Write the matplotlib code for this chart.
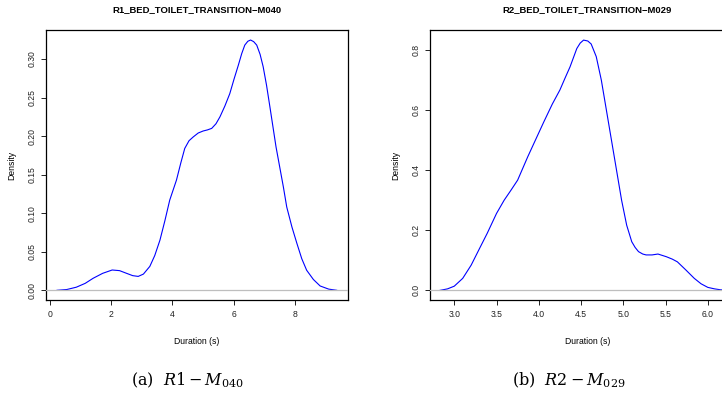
import numpy as np
import matplotlib
matplotlib.use('Agg')
import matplotlib.pyplot as plt

plt.rcParams['font.family'] = ['Liberation Sans', 'DejaVu Sans']
plt.rcParams['mathtext.fontset'] = 'dejavuserif'

# density curves
r1_x = [0.23, 0.55, 0.86, 1.15, 1.41, 1.72, 2.03, 2.27, 2.50, 2.70, 2.88, 3.05, 3.26,
        3.42, 3.59, 3.75, 3.91, 4.13, 4.27, 4.40, 4.54, 4.68, 4.84, 5.00, 5.14,
        5.28, 5.42, 5.55, 5.71, 5.87, 6.01, 6.15, 6.26, 6.36, 6.46, 6.55, 6.65,
        6.75, 6.86, 6.96, 7.07, 7.18, 7.28, 7.38, 7.50, 7.62, 7.73, 7.90, 8.06,
        8.22, 8.38, 8.60, 8.82, 9.10, 9.36]
r1_y = [0.000, 0.001, 0.004, 0.009, 0.0156, 0.022, 0.0263, 0.0255, 0.022, 0.019,
        0.018, 0.021, 0.031, 0.045, 0.065, 0.090, 0.117, 0.143, 0.165, 0.184,
        0.194, 0.199, 0.204, 0.2066, 0.208, 0.210, 0.216, 0.225, 0.239, 0.255,
        0.274, 0.292, 0.307, 0.318, 0.323, 0.3246, 0.3225, 0.318, 0.306, 0.290,
        0.266, 0.238, 0.212, 0.186, 0.160, 0.134, 0.108, 0.082, 0.061, 0.041,
        0.026, 0.014, 0.0056, 0.0015, 0.000]

r2_x = [2.83, 2.92, 3.00, 3.10, 3.20, 3.30, 3.39, 3.50, 3.59, 3.67, 3.75, 3.87,
        3.96, 4.06, 4.16, 4.25, 4.31, 4.37, 4.45, 4.49, 4.53, 4.58, 4.62, 4.68,
        4.74, 4.80, 4.86, 4.92, 4.98, 5.04, 5.10, 5.14, 5.18, 5.23, 5.27, 5.34,
        5.41, 5.51, 5.58, 5.64, 5.74, 5.84, 5.92, 6.00, 6.08, 6.15, 6.30]
r2_y = [0.000, 0.005, 0.014, 0.040, 0.084, 0.140, 0.190, 0.256, 0.300, 0.333,
        0.367, 0.445, 0.500, 0.561, 0.620, 0.667, 0.706, 0.744, 0.805, 0.823,
        0.833, 0.830, 0.820, 0.778, 0.700, 0.600, 0.500, 0.400, 0.300, 0.217,
        0.162, 0.143, 0.129, 0.121, 0.118, 0.118, 0.121, 0.112, 0.104, 0.095,
        0.068, 0.040, 0.022, 0.010, 0.005, 0.002, 0.000]

titles = ['R1_BED_TOILET_TRANSITION\u2212M040', 'R2_BED_TOILET_TRANSITION\u2212M029']
captions = [r'(a)  $R1-M_{040}$', r'(b)  $R2-M_{029}$']
xticks = [[0, 2, 4, 6, 8], [3.0, 3.5, 4.0, 4.5, 5.0, 5.5, 6.0]]
yticks = [[0.00, 0.05, 0.10, 0.15, 0.20, 0.25, 0.30], [0.0, 0.2, 0.4, 0.6, 0.8]]
yfmt = ['{:.2f}', '{:.1f}']
xfmt = ['{:.0f}', '{:.1f}']

fig = plt.figure(figsize=(7.22, 3.96), dpi=100)

def density_panel(rect, x, y, k, xlim, ylim):
    ax = fig.add_axes(rect)
    ax.plot(x, y, color='#0000FF', lw=0.8, zorder=2)
    ax.axhline(0, color='#BEBEBE', lw=0.9, zorder=3)
    ax.set_xlim(xlim)
    ax.set_ylim(ylim)
    ax.set_xticks(xticks[k])
    ax.set_xticklabels([xfmt[k].format(v) for v in xticks[k]])
    ax.set_yticks(yticks[k])
    ax.set_yticklabels([yfmt[k].format(v) for v in yticks[k]], rotation=90, va='center')
    ax.tick_params(length=3.5, width=0.7, labelsize=6.2, colors='#222222', pad=3.5)
    for s in ax.spines.values():
        s.set_linewidth(0.9)
    ax.set_title(titles[k], fontsize=6.8, fontweight='bold', pad=13)
    ax.set_xlabel('Duration (s)', fontsize=6.2, labelpad=13)
    ax.set_ylabel('Density', fontsize=6.2, labelpad=8)
    return ax

density_panel([46/722, 1-300/396, 302/722, 270/396], r1_x, r1_y, 0, (-0.13, 9.73), (-0.0126, 0.3376))
density_panel([430/722, 1-300/396, 315/722, 270/396], r2_x, r2_y, 1, (2.713, 6.44), (-0.032, 0.8666))

fig.text(187/722, 1-380/396, captions[0], ha='center', va='center', fontsize=11.5, family='DejaVu Serif')
fig.text(569/722, 1-380/396, captions[1], ha='center', va='center', fontsize=11.5, family='DejaVu Serif')

plt.savefig('out.png', dpi=100)
